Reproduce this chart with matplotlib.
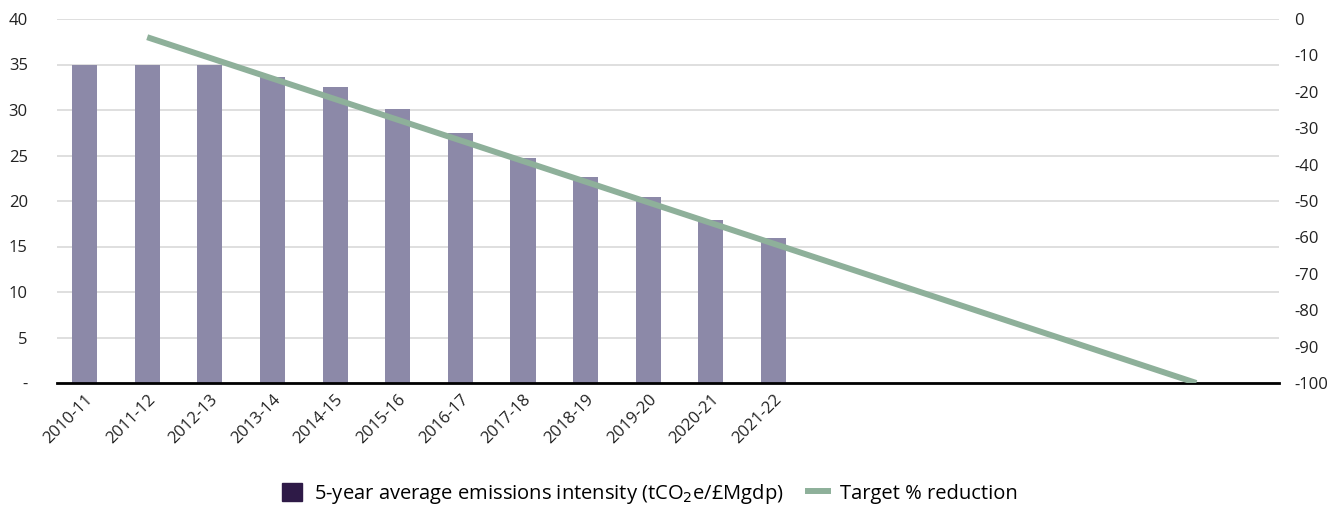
import numpy as np
import matplotlib.pyplot as plt

plt.rcParams['font.family'] = ['Open Sans', 'DejaVu Sans']
plt.rcParams['axes.unicode_minus'] = False

# Data
years = ['2010-11', '2011-12', '2012-13', '2013-14', '2014-15', '2015-16',
         '2016-17', '2017-18', '2018-19', '2019-20', '2020-21', '2021-22']
intensity = [35.0, 35.0, 35.0, 33.6, 32.5, 30.1, 27.5, 24.7, 22.6, 20.4, 17.9, 15.9]

# target line: start at 2011-12, reaches -100 further along the (unlabelled) axis
target_x = [1, 17.75]
target_pct = [-5, -100]

bar_col = '#8c89a8'
line_col = '#8eb09a'
legend_bar_col = '#2e1a47'

fig = plt.figure(figsize=(13.35, 5.07), dpi=100)
ax = fig.add_axes([57/1335, 1 - 383/507, (1279 - 57)/1335, (383 - 19)/507])
ax2 = ax.twinx()

x = np.arange(len(years))
ax.bar(x, intensity, width=0.4, color=bar_col, zorder=2)

ax.set_ylim(0, 40)
ax.set_xlim(-0.44, 19.07)
ax.set_yticks(np.arange(0, 41, 5))
ax.set_yticklabels(['-'] + [str(v) for v in range(5, 41, 5)])
ax.yaxis.grid(True, color='#d9d9d9', linewidth=1.2, zorder=0)
ax.set_axisbelow(True)
ax.set_xticks(x)
ax.set_xticklabels(years, rotation=45, ha='right', rotation_mode='anchor')

ax2.plot(target_x, target_pct, color=line_col, linewidth=4.3, solid_capstyle='butt', zorder=3)
ax2.set_ylim(-100, 0)
ax2.set_yticks(np.arange(-100, 1, 10))

for a in (ax, ax2):
    for s in ['top', 'left', 'right', 'bottom']:
        a.spines[s].set_visible(False)
    a.tick_params(length=0, labelsize=12, colors='#222222')
ax.spines['bottom'].set_visible(True)
ax.spines['bottom'].set_linewidth(2)
ax.spines['bottom'].set_color('black')
ax.spines['bottom'].set_zorder(4)
ax.tick_params(axis='y', pad=21)
ax.tick_params(axis='x', pad=6)
ax2.tick_params(axis='y', pad=11)

# legend
h1 = plt.Rectangle((0, 0), 1, 1, color=legend_bar_col)
h2 = plt.Line2D([0], [0], color=line_col, linewidth=4.3)
fig.legend([h1, h2], ['5-year average emissions intensity (tCO$_2$e/£Mgdp)', 'Target % reduction'],
           loc='center', bbox_to_anchor=(0.487, 1 - 494/507), ncol=2, frameon=False,
           fontsize=14.5, handlelength=1.0, handleheight=1.0, columnspacing=1.2, handletextpad=0.6)

fig.savefig('out.png', dpi=100)
